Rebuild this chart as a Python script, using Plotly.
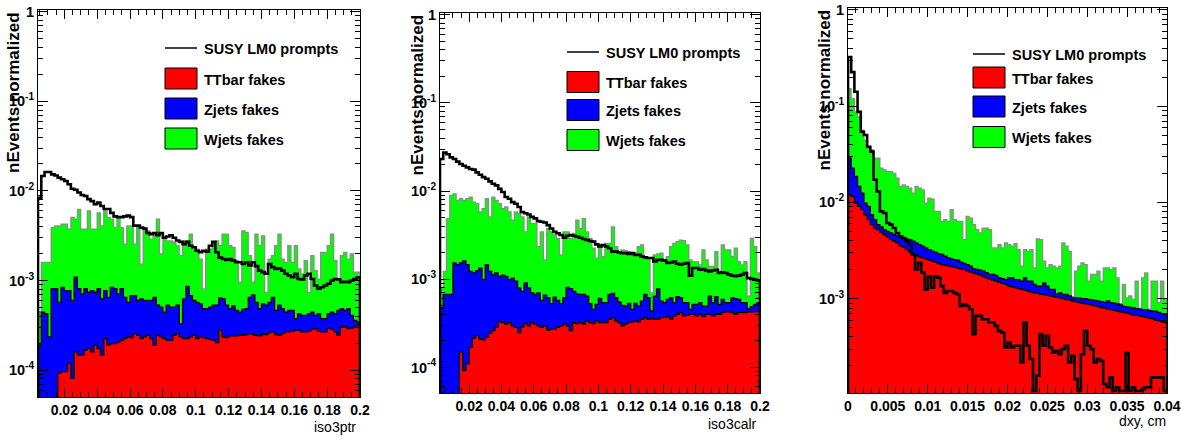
import numpy as np
import plotly.graph_objects as go

W, H = 1181, 440

# ------------------------------------------------------------------ data
legend_labels = ["SUSY LM0 prompts", "TTbar fakes", "Zjets fakes", "Wjets fakes"]

# panel 1 : iso3ptr, 98 bins between 0.004 and 0.2
p1_range = (0.004, 0.2)
p1_susy = [8.4e-3, 1.47e-2, 1.63e-2, 1.63e-2, 1.53e-2, 1.49e-2, 1.41e-2, 1.35e-2, 1.29e-2, 1.19e-2,
           1.06e-2, 1.03e-2, 9.6e-3, 9.0e-3, 8.8e-3, 8.1e-3, 7.7e-3, 7.1e-3, 7.4e-3, 6.8e-3,
           6.3e-3, 6.3e-3, 5.7e-3, 5.2e-3, 5.1e-3, 5.1e-3, 5.2e-3, 5.3e-3, 5.1e-3, 4.1e-3,
           4.1e-3, 3.9e-3, 3.8e-3, 3.4e-3, 3.3e-3, 3.4e-3, 3.2e-3, 3.4e-3, 3.0e-3, 3.1e-3,
           3.2e-3, 3.0e-3, 2.8e-3, 2.7e-3, 2.55e-3, 2.7e-3, 2.45e-3, 2.35e-3, 2.15e-3, 2.07e-3,
           2.15e-3, 2.1e-3, 2.45e-3, 2.7e-3, 2.07e-3, 1.8e-3, 1.74e-3, 1.7e-3, 1.74e-3, 1.67e-3,
           1.6e-3, 1.6e-3, 1.53e-3, 1.6e-3, 1.47e-3, 1.6e-3, 1.45e-3, 1.29e-3, 1.24e-3, 1.19e-3,
           1.53e-3, 1.41e-3, 1.35e-3, 1.37e-3, 1.29e-3, 1.19e-3, 1.14e-3, 1.09e-3, 1.19e-3, 1.04e-3,
           1.03e-3, 1.14e-3, 1.19e-3, 1.04e-3, 8.8e-4, 8.1e-4, 8.4e-4, 8.8e-4, 9.2e-4, 1.0e-3,
           1.04e-3, 1.03e-3, 9.6e-4, 9.7e-4, 9.6e-4, 1.0e-3, 1.04e-3, 1.09e-3]
# stack levels: ttbar, ttbar+zjets, ttbar+zjets+wjets
p1_stack_all = [4.5e-4, 1.6e-3, 1.6e-3, 1.6e-3, 3.91e-3, 4.08e-3, 4.08e-3, 4.26e-3, 4.26e-3, 3.75e-3,
                5.06e-3, 4.84e-3, 6.25e-3, 3.75e-3, 3.75e-3, 6.0e-3, 3.75e-3, 3.75e-3, 5.7e-3, 4.08e-3,
                6.0e-3, 5.06e-3, 4.84e-3, 3.91e-3, 5.06e-3, 3.91e-3, 2.55e-3, 4.08e-3, 4.08e-3, 2.55e-3,
                3.91e-3, 1.53e-3, 3.75e-3, 3.59e-3, 2.9e-3, 3.3e-3, 4.84e-3, 1.98e-3, 3.03e-3, 2.78e-3,
                2.78e-3, 2.67e-3, 2.45e-3, 1.9e-3, 2.78e-3, 2.78e-3, 3.3e-3, 2.25e-3, 2.25e-3, 1.74e-3,
                8.1e-4, 2.25e-3, 2.25e-3, 2.67e-3, 2.78e-3, 2.45e-3, 3.3e-3, 3.3e-3, 2.45e-3, 2.35e-3,
                1.67e-3, 9.6e-4, 3.59e-3, 3.44e-3, 1.9e-3, 9.6e-4, 3.3e-3, 2.45e-3, 3.16e-3, 7.4e-4,
                1.74e-3, 1.9e-3, 2.45e-3, 3.3e-3, 1.74e-3, 1.6e-3, 2.45e-3, 1.6e-3, 2.45e-3, 1.35e-3,
                1.19e-3, 1.67e-3, 7.4e-4, 1.9e-3, 1.29e-3, 1.04e-3, 2.06e-3, 2.06e-3, 2.45e-3, 3.3e-3,
                1.67e-3, 1.04e-3, 1.9e-3, 2.06e-3, 1.74e-3, 1.98e-3, 1.24e-3, 1.24e-3]
p1_stack_tz = [1.9e-4, 4.45e-4, 4.26e-4, 2.35e-4, 8.1e-4, 8.1e-4, 5.7e-4, 8.4e-4, 7.7e-4, 7.7e-4,
               6.0e-4, 1.09e-3, 8.1e-4, 7.1e-4, 8.1e-4, 7.4e-4, 7.7e-4, 7.4e-4, 8.1e-4, 6.25e-4,
               7.7e-4, 6.5e-4, 8.4e-4, 8.1e-4, 7.1e-4, 8.1e-4, 6.5e-4, 5.7e-4, 6.8e-4, 6.8e-4,
               6.0e-4, 6.25e-4, 6.0e-4, 6.0e-4, 6.0e-4, 6.5e-4, 5.3e-4, 5.06e-4, 4.45e-4, 5.3e-4,
               5.06e-4, 5.06e-4, 5.3e-4, 3.3e-4, 6.25e-4, 8.6e-4, 6.8e-4, 6.0e-4, 5.7e-4, 5.5e-4,
               4.84e-4, 4.84e-4, 5.06e-4, 5.3e-4, 5.3e-4, 6.4e-4, 6.25e-4, 5.3e-4, 4.84e-4, 5.2e-4,
               4.64e-4, 4.45e-4, 4.76e-4, 4.84e-4, 6.5e-4, 6.9e-4, 5.7e-4, 4.84e-4, 5.5e-4, 5.3e-4,
               5.7e-4, 6.5e-4, 4.64e-4, 5.3e-4, 4.84e-4, 4.45e-4, 4.64e-4, 4.64e-4, 3.75e-4, 4.26e-4,
               4.08e-4, 4.08e-4, 4.26e-4, 4.45e-4, 4.08e-4, 4.26e-4, 3.75e-4, 3.75e-4, 4.26e-4, 4.45e-4,
               4.26e-4, 4.64e-4, 4.84e-4, 4.64e-4, 4.84e-4, 4.08e-4, 3.59e-4, 3.44e-4]
p1_stack_t = [0, 0, 0, 0, 0, 0, 9.2e-5, 9.6e-5, 9.6e-5, 1.19e-4,
              8.1e-5, 1.6e-4, 1.47e-4, 1.47e-4, 1.67e-4, 1.74e-4, 1.6e-4, 1.9e-4, 1.74e-4, 1.47e-4,
              2.25e-4, 1.9e-4, 1.98e-4, 1.98e-4, 2.06e-4, 2.15e-4, 2.25e-4, 2.35e-4, 2.3e-4, 2.55e-4,
              2.45e-4, 2.25e-4, 2.35e-4, 2.45e-4, 2.25e-4, 1.9e-4, 2.45e-4, 2.35e-4, 2.25e-4, 2.15e-4,
              2.15e-4, 2.45e-4, 2.55e-4, 2.35e-4, 2.25e-4, 2.25e-4, 2.35e-4, 2.45e-4, 2.25e-4, 2.35e-4,
              2.3e-4, 2.25e-4, 2.2e-4, 2.15e-4, 2.03e-4, 2.78e-4, 2.35e-4, 2.3e-4, 2.41e-4, 2.41e-4,
              2.41e-4, 2.45e-4, 2.45e-4, 2.5e-4, 2.55e-4, 2.5e-4, 2.45e-4, 2.41e-4, 2.5e-4, 2.5e-4,
              2.62e-4, 2.67e-4, 2.5e-4, 2.45e-4, 2.55e-4, 2.67e-4, 2.67e-4, 2.71e-4, 2.78e-4, 2.78e-4,
              2.67e-4, 2.67e-4, 2.71e-4, 2.85e-4, 2.9e-4, 2.71e-4, 2.67e-4, 2.67e-4, 2.95e-4, 2.85e-4,
              2.67e-4, 2.45e-4, 3.03e-4, 3.03e-4, 2.9e-4, 2.95e-4, 3.03e-4, 3.16e-4]

# panel 2 : iso3calr, 99 bins between 0.002 and 0.2
p2_range = (0.002, 0.2)
p2_susy = [2.31e-2, 2.74e-2, 2.62e-2, 2.41e-2, 2.31e-2, 2.16e-2, 2.03e-2, 1.94e-2, 1.86e-2, 1.78e-2,
           1.75e-2, 1.63e-2, 1.53e-2, 1.44e-2, 1.38e-2, 1.29e-2, 1.21e-2, 1.16e-2, 1.06e-2, 9.75e-3,
           8.57e-3, 8.2e-3, 7.5e-3, 7.2e-3, 6.6e-3, 5.8e-3, 5.6e-3, 5.42e-3, 5.1e-3, 4.9e-3,
           4.56e-3, 4.49e-3, 4.41e-3, 4.11e-3, 3.77e-3, 3.46e-3, 3.32e-3, 3.18e-3, 2.96e-3, 3.12e-3,
           3.18e-3, 3.12e-3, 3.04e-3, 2.96e-3, 2.86e-3, 2.79e-3, 2.72e-3, 2.67e-3, 2.49e-3, 2.35e-3,
           2.45e-3, 2.35e-3, 2.25e-3, 2.06e-3, 2.06e-3, 2.01e-3, 1.98e-3, 1.98e-3, 1.94e-3, 1.98e-3,
           1.89e-3, 1.89e-3, 1.81e-3, 1.78e-3, 1.74e-3, 1.74e-3, 1.59e-3, 1.66e-3, 1.66e-3, 1.63e-3,
           1.53e-3, 1.55e-3, 1.59e-3, 1.5e-3, 1.46e-3, 1.5e-3, 1.53e-3, 1.1e-3, 1.34e-3, 1.34e-3,
           1.28e-3, 1.31e-3, 1.26e-3, 1.23e-3, 1.26e-3, 1.28e-3, 1.18e-3, 1.2e-3, 1.18e-3, 1.13e-3,
           1.1e-3, 1.08e-3, 1.1e-3, 1.13e-3, 1.18e-3, 1.03e-3, 1.01e-3, 9.9e-4, 9.7e-4]
p2_stack_all = [8.0e-4, 1.23e-3, 4.89e-3, 8.93e-3, 9.33e-3, 7.85e-3, 8.2e-3, 7.85e-3, 8.2e-3, 8.57e-3,
                7.52e-3, 7.21e-3, 5.8e-3, 6.33e-3, 8.2e-3, 5.1e-3, 8.57e-3, 7.85e-3, 7.21e-3, 6.33e-3,
                6.61e-3, 5.8e-3, 4.68e-3, 5.8e-3, 5.56e-3, 5.1e-3, 3.46e-3, 5.1e-3, 4.29e-3, 4.29e-3,
                2.35e-3, 3.46e-3, 1.66e-3, 3.77e-3, 3.46e-3, 3.18e-3, 2.91e-3, 1.89e-3, 3.46e-3, 3.46e-3,
                2.91e-3, 3.32e-3, 4.68e-3, 3.77e-3, 4.89e-3, 3.46e-3, 2.91e-3, 2.25e-3, 1.74e-3, 2.45e-3,
                1.81e-3, 2.56e-3, 2.56e-3, 3.94e-3, 2.35e-3, 1.98e-3, 2.15e-3, 2.12e-3, 2.06e-3, 1.98e-3,
                2.01e-3, 2.35e-3, 2.45e-3, 1.74e-3, 1.74e-3, 7.0e-4, 1.89e-3, 1.94e-3, 1.98e-3, 1.59e-3,
                1.81e-3, 2.35e-3, 2.56e-3, 2.67e-3, 2.79e-3, 2.74e-3, 2.45e-3, 1.66e-3, 1.59e-3, 1.59e-3,
                1.46e-3, 2.15e-3, 1.66e-3, 1.4e-3, 1.4e-3, 2.06e-3, 1.23e-3, 2.45e-3, 2.15e-3, 2.15e-3,
                1.81e-3, 2.25e-3, 1.59e-3, 1.46e-3, 1.59e-3, 6.44e-4, 2.91e-3, 2.35e-3, 1.18e-3]
p2_stack_tz = [4.76e-4, 6.73e-4, 6.73e-4, 6.73e-4, 1.53e-3, 1.46e-3, 1.53e-3, 1.62e-3, 1.46e-3, 1.23e-3,
               1.18e-3, 1.25e-3, 1.34e-3, 9.9e-4, 1.46e-3, 1.23e-3, 1.13e-3, 1.18e-3, 1.08e-3, 1.11e-3,
               1.08e-3, 9.9e-4, 1.03e-3, 9.5e-4, 8.0e-4, 7.3e-4, 9.1e-4, 8.0e-4, 7.0e-4, 6.73e-4,
               7.0e-4, 5.76e-4, 6.61e-4, 6.17e-4, 5.28e-4, 6.28e-4, 5.76e-4, 5.28e-4, 6.17e-4, 8.1e-4,
               7.85e-4, 7.3e-4, 6.84e-4, 6.73e-4, 6.73e-4, 6.44e-4, 5.28e-4, 4.56e-4, 5.19e-4, 6.07e-4,
               5.42e-4, 5.42e-4, 6.73e-4, 6.9e-4, 6.17e-4, 5.52e-4, 5.06e-4, 4.97e-4, 5.33e-4, 4.56e-4,
               5.33e-4, 4.97e-4, 5.66e-4, 6.73e-4, 6.17e-4, 4.37e-4, 6.44e-4, 7.78e-4, 5.66e-4, 5.42e-4,
               5.91e-4, 6.17e-4, 5.42e-4, 6.33e-4, 6.17e-4, 5.42e-4, 5.42e-4, 4.56e-4, 5.19e-4, 5.19e-4,
               5.42e-4, 4.97e-4, 4.97e-4, 6.44e-4, 5.42e-4, 6.33e-4, 5.19e-4, 5.91e-4, 5.42e-4, 5.42e-4,
               6.17e-4, 6.01e-4, 5.91e-4, 5.42e-4, 5.42e-4, 4.6e-4, 4.9e-4, 5.2e-4, 5.42e-4]
p2_stack_t = [0, 0, 0, 0, 0, 0, 1.49e-4, 9.2e-5, 1.1e-4, 1.69e-4,
              2.15e-4, 2.29e-4, 2.1e-4, 2.05e-4, 2.19e-4, 2.43e-4, 2.61e-4, 2.84e-4, 3.32e-4, 3.23e-4,
              3.1e-4, 3.23e-4, 2.97e-4, 2.84e-4, 2.49e-4, 2.89e-4, 3.15e-4, 2.97e-4, 3.23e-4, 3.1e-4,
              2.97e-4, 2.84e-4, 2.97e-4, 2.65e-4, 2.72e-4, 2.72e-4, 2.84e-4, 2.97e-4, 3.1e-4, 2.97e-4,
              2.61e-4, 3.21e-4, 3.15e-4, 3.23e-4, 3.1e-4, 3.37e-4, 3.23e-4, 3.15e-4, 3.37e-4, 3.23e-4,
              3.23e-4, 3.23e-4, 3.52e-4, 3.68e-4, 3.37e-4, 3.23e-4, 2.97e-4, 3.1e-4, 3.23e-4, 3.29e-4,
              3.37e-4, 3.29e-4, 3.52e-4, 3.68e-4, 3.52e-4, 3.58e-4, 3.52e-4, 3.52e-4, 3.68e-4, 3.68e-4,
              3.78e-4, 3.52e-4, 3.84e-4, 4.01e-4, 4.19e-4, 3.84e-4, 3.91e-4, 4.01e-4, 4.01e-4, 3.84e-4,
              4.01e-4, 3.78e-4, 4.01e-4, 4.01e-4, 3.84e-4, 4.01e-4, 4.01e-4, 4.19e-4, 4.26e-4, 4.26e-4,
              4.19e-4, 4.01e-4, 4.2e-4, 4.2e-4, 4.19e-4, 4.26e-4, 4.26e-4, 4.3e-4, 4.3e-4]

# panel 3 : dxy [cm], 100 bins between 0 and 0.04
p3_range = (0.0, 0.04)
p3_susy = [0.324, 0.226, 0.141, 0.0873, 0.0542, 0.0501, 0.0379, 0.0337, 0.0172, 0.0130,
           8.07e-3, 7.76e-3, 6.11e-3, 5.88e-3, 5.42e-3, 4.82e-3, 4.45e-3, 4.27e-3, 3.95e-3, 3.65e-3,
           2.88e-3, 2.01e-3, 2.36e-3, 1.86e-3, 1.25e-3, 1.71e-3, 1.30e-3, 1.71e-3, 1.65e-3, 1.35e-3,
           1.15e-3, 1.20e-3, 1.20e-3, 1.15e-3, 1.11e-3, 8.4e-4, 8.74e-4, 8.4e-4, 7.76e-4, 4.28e-4,
           6.62e-4, 6.62e-4, 6.11e-4, 6.11e-4, 5.65e-4, 5.65e-4, 5.22e-4, 4.63e-4, 4.45e-4, 3.11e-4,
           3.51e-4, 3.11e-4, 3.24e-4, 3.24e-4, 2.18e-4, 5.65e-4, 3.24e-4, 2.36e-4, 1.1e-4, 1.58e-4,
           4.28e-4, 3.24e-4, 4.11e-4, 3.11e-4, 2.76e-4, 2.88e-4, 2.65e-4, 2.99e-4, 3.24e-4, 2.18e-4,
           2.55e-4, 1.46e-4, 1.1e-4, 2.65e-4, 4.63e-4, 3.24e-4, 2.99e-4, 2.18e-4, 2.36e-4, 2.26e-4,
           1.30e-4, 1.20e-4, 1.52e-4, 1.1e-4, 1.20e-4, 1.1e-4, 1.1e-4, 2.72e-4, 1.1e-4, 1.20e-4,
           1.1e-4, 1.1e-4, 1.15e-4, 1.20e-4, 1.20e-4, 1.52e-4, 1.52e-4, 1.52e-4, 1.52e-4, 1.1e-4]
p3_stack_all = [0.152, 0.120, 0.0873, 0.0776, 0.0565, 0.0445, 0.0365, 0.0351, 0.0288, 0.0288,
                0.0227, 0.0218, 0.0209, 0.0209, 0.0201, 0.0179, 0.0147, 0.0152, 0.0147, 0.0141,
                0.0125, 0.0147, 0.0141, 0.0135, 9.84e-3, 0.0111, 0.0108, 8.07e-3, 8.07e-3, 6.36e-3,
                6.62e-3, 6.36e-3, 8.4e-3, 6.62e-3, 6.36e-3, 6.36e-3, 4.11e-3, 7.16e-3, 6.89e-3, 5.88e-3,
                5.21e-3, 4.82e-3, 5.42e-3, 5.42e-3, 5.21e-3, 3.37e-3, 3.37e-3, 3.65e-3, 3.37e-3, 3.8e-3,
                3.65e-3, 3.51e-3, 3.73e-3, 3.24e-3, 2.18e-3, 3.24e-3, 3.11e-3, 3.24e-3, 2.09e-3, 4.18e-3,
                4.11e-3, 2.45e-3, 2.09e-3, 2.26e-3, 2.18e-3, 2.09e-3, 2.18e-3, 3.8e-3, 3.51e-3, 3.11e-3,
                1.05e-3, 1.93e-3, 2.18e-3, 2.36e-3, 2.26e-3, 1.52e-3, 1.79e-3, 1.79e-3, 1.93e-3, 1.52e-3,
                2.09e-3, 2.09e-3, 2.01e-3, 2.09e-3, 1.65e-3, 8.9e-4, 1.41e-3, 1.02e-3, 1.07e-3, 9.8e-4,
                1.52e-3, 8.0e-4, 1.65e-3, 1.86e-3, 7.8e-4, 1.52e-3, 1.52e-3, 9.1e-4, 1.52e-3, 9.8e-4]
p3_stack_tz = [0.0288, 0.0227, 0.0186, 0.0147, 0.0125, 9.84e-3, 9.1e-3, 7.45e-3, 6.62e-3, 5.88e-3,
               5.56e-3, 5.21e-3, 5.01e-3, 4.82e-3, 4.63e-3, 4.52e-3, 4.38e-3, 4.27e-3, 4.18e-3, 4.11e-3,
               3.95e-3, 3.8e-3, 3.65e-3, 3.51e-3, 3.37e-3, 3.24e-3, 3.11e-3, 3.04e-3, 2.94e-3, 2.88e-3,
               2.76e-3, 2.65e-3, 2.59e-3, 2.55e-3, 2.51e-3, 2.4e-3, 2.32e-3, 2.26e-3, 2.18e-3, 2.04e-3,
               2.01e-3, 1.98e-3, 1.93e-3, 1.86e-3, 1.79e-3, 1.79e-3, 1.74e-3, 1.65e-3, 1.61e-3, 1.58e-3,
               1.65e-3, 1.65e-3, 1.58e-3, 1.58e-3, 1.52e-3, 1.65e-3, 1.52e-3, 1.52e-3, 1.41e-3, 1.35e-3,
               1.35e-3, 1.46e-3, 1.35e-3, 1.25e-3, 1.25e-3, 1.12e-3, 1.15e-3, 1.11e-3, 1.11e-3, 1.07e-3,
               1.02e-3, 1.02e-3, 1.02e-3, 1.0e-3, 1.0e-3, 9.8e-4, 9.7e-4, 9.6e-4, 9.5e-4, 9.3e-4,
               9.2e-4, 9.5e-4, 9.1e-4, 9.0e-4, 8.8e-4, 8.6e-4, 8.3e-4, 8.2e-4, 8.1e-4, 8.0e-4,
               7.9e-4, 7.8e-4, 7.7e-4, 7.7e-4, 7.5e-4, 7.4e-4, 7.4e-4, 7.2e-4, 7.0e-4, 6.9e-4]
p3_stack_t = [0.0120, 0.0115, 9.84e-3, 9.1e-3, 8.4e-3, 7.45e-3, 6.62e-3, 5.88e-3, 5.42e-3, 5.21e-3,
              4.89e-3, 4.63e-3, 4.38e-3, 4.11e-3, 3.95e-3, 3.8e-3, 3.56e-3, 3.42e-3, 3.24e-3, 3.04e-3,
              2.92e-3, 2.81e-3, 2.72e-3, 2.65e-3, 2.59e-3, 2.51e-3, 2.45e-3, 2.4e-3, 2.32e-3, 2.26e-3,
              2.23e-3, 2.19e-3, 2.16e-3, 2.13e-3, 2.08e-3, 2.03e-3, 2.0e-3, 1.95e-3, 1.89e-3, 1.85e-3,
              1.8e-3, 1.76e-3, 1.7e-3, 1.65e-3, 1.6e-3, 1.56e-3, 1.52e-3, 1.48e-3, 1.44e-3, 1.41e-3,
              1.35e-3, 1.33e-3, 1.3e-3, 1.27e-3, 1.25e-3, 1.23e-3, 1.2e-3, 1.17e-3, 1.15e-3, 1.14e-3,
              1.11e-3, 1.1e-3, 1.08e-3, 1.07e-3, 1.05e-3, 1.03e-3, 1.02e-3, 1.0e-3, 9.8e-4, 9.7e-4,
              9.46e-4, 9.3e-4, 9.1e-4, 9.0e-4, 8.9e-4, 8.74e-4, 8.6e-4, 8.4e-4, 8.26e-4, 8.1e-4,
              8.0e-4, 7.8e-4, 7.7e-4, 7.58e-4, 7.45e-4, 7.3e-4, 7.2e-4, 7.1e-4, 6.94e-4, 6.8e-4,
              6.7e-4, 6.62e-4, 6.5e-4, 6.4e-4, 6.3e-4, 6.21e-4, 6.0e-4, 5.87e-4, 5.75e-4, 5.65e-4]

# tick labels
p12_xticks = [0.02, 0.04, 0.06, 0.08, 0.1, 0.12, 0.14, 0.16, 0.18, 0.2]
p12_xlabels = ["0.02", "0.04", "0.06", "0.08", "0.1", "0.12", "0.14", "0.16", "0.18", "0.2"]
p3_xticks = [0, 0.005, 0.01, 0.015, 0.02, 0.025, 0.03, 0.035, 0.04]
p3_xlabels = ["0", "0.005", "0.01", "0.015", "0.02", "0.025", "0.03", "0.035", "0.04"]
y_ticks = [1e-4, 1e-3, 1e-2, 1e-1, 1]
y_labels = ["10<sup>-4</sup>", "10<sup>-3</sup>", "10<sup>-2</sup>", "10<sup>-1</sup>", "1"]
x_titles = ["iso3ptr", "iso3calr", "dxy, cm"]
y_title = "nEvents normalized"

# ------------------------------------------------------------------ style
RED, BLUE, GREEN = "#ff0000", "#0000ff", "#00ff00"
FONT = "Liberation Sans, Arial, sans-serif"

panels = [
    dict(rng=p1_range, susy=p1_susy, all=p1_stack_all, tz=p1_stack_tz, t=p1_stack_t,
         px=(38, 360), py=(10, 397), yr=(-4.3, 0.02), xt=p12_xticks, xl=p12_xlabels, minor=0.005,
         title=x_titles[0], tpos=(358, 427), ytx=13.5, leg_x=165, leg_y=[48, 78.5, 108.5, 138.5]),
    dict(rng=p2_range, susy=p2_susy, all=p2_stack_all, tz=p2_stack_tz, t=p2_stack_t,
         px=(440, 760), py=(13, 393), yr=(-4.29, 0.02), xt=p12_xticks, xl=p12_xlabels, minor=0.005,
         title=x_titles[1], tpos=(759, 424), ytx=417, leg_x=567, leg_y=[52, 82, 110, 140]),
    dict(rng=p3_range, susy=p3_susy, all=p3_stack_all, tz=p3_stack_tz, t=p3_stack_t,
         px=(848, 1167), py=(8, 393), yr=(-3.98, 0.02), xt=p3_xticks, xl=p3_xlabels, minor=0.001,
         title=x_titles[2], tpos=(1168, 421), ytx=824, leg_x=973, leg_y=[54, 77.5, 106.5, 137]),
]


def fx(p):
    return p / W


def fy(p):
    return 1 - p / H


def step(edges, vals, floor=1e-9):
    v = [a if a > 0 else floor for a in vals]
    xs = [edges[0]] + list(edges[:-1]) + [edges[-1], edges[-1]]
    ys = [floor] + v + [v[-1], floor]
    return xs, ys


fig = go.Figure()
shapes, annotations = [], []
layout = {}

for k, P in enumerate(panels):
    sfx = "" if k == 0 else str(k + 1)
    xa, ya = "x" + sfx, "y" + sfx
    n = len(P["susy"])
    edges = np.linspace(P["rng"][0], P["rng"][1], n + 1)
    centers = (edges[:-1] + edges[1:]) / 2
    bw = edges[1] - edges[0]

    for vals, col in [(P["all"], GREEN), (P["tz"], BLUE), (P["t"], RED)]:
        fig.add_trace(go.Bar(x=centers, y=[v if v > 0 else None for v in vals], width=bw,
                             marker=dict(color=col, line=dict(width=0)),
                             xaxis=xa, yaxis=ya, showlegend=False, hoverinfo="skip"))
    for vals, col, lw in [(P["all"], "#8c8c8c", 1.2), (P["tz"], "black", 1.3),
                          (P["t"], "black", 1.3), (P["susy"], "black", 2.6)]:
        xs, ys = step(edges, vals)
        fig.add_trace(go.Scatter(x=xs, y=ys, mode="lines", line=dict(color=col, width=lw, shape="hv"),
                                 xaxis=xa, yaxis=ya, showlegend=False, hoverinfo="skip"))

    x0, x1 = P["px"]
    y0, y1 = P["py"]
    layout["xaxis" + sfx] = dict(
        domain=[fx(x0), fx(x1)], range=list(P["rng"]), anchor=ya, automargin=False,
        showline=True, linecolor="black", linewidth=1, mirror="ticks",
        ticks="inside", ticklen=9, tickwidth=1, tickcolor="black", tickangle=0,
        tickmode="array", tickvals=P["xt"], ticktext=["<b>%s</b>" % s for s in P["xl"]],
        tickfont=dict(family=FONT, size=14, color="black"),
        minor=dict(ticks="inside", ticklen=5, tickwidth=1, tickcolor="black",
                   dtick=P["minor"], tick0=0, showgrid=False),
        showgrid=False, zeroline=False)
    layout["yaxis" + sfx] = dict(
        domain=[fy(y1), fy(y0)], type="log", range=list(P["yr"]), anchor=xa, automargin=False,
        showline=True, linecolor="black", linewidth=1, mirror="ticks",
        ticks="inside", ticklen=10, tickwidth=1, tickcolor="black",
        tickmode="array", tickvals=y_ticks, ticktext=["<b>%s</b>" % s for s in y_labels],
        tickfont=dict(family=FONT, size=14.5, color="black"),
        minor=dict(ticks="inside", ticklen=5, tickwidth=1, tickcolor="black",
                   dtick="D1", showgrid=False),
        showgrid=False, zeroline=False)

    # axis titles
    annotations.append(dict(x=fx(P["tpos"][0]), y=fy(P["tpos"][1]), xref="paper", yref="paper",
                            text=P["title"], showarrow=False, xanchor="right", yanchor="middle",
                            font=dict(family=FONT, size=14, color="black")))
    annotations.append(dict(x=fx(P["ytx"]), y=fy(y0), xref="paper", yref="paper",
                            text="<b>%s</b>" % y_title, textangle=-90, showarrow=False,
                            xanchor="center", yanchor="top",
                            font=dict(family=FONT, size=17, color="black")))

    # legend (drawn like the ROOT TLegend)
    lx = P["leg_x"]
    ly = P["leg_y"]
    shapes.append(dict(type="line", xref="paper", yref="paper", x0=fx(lx), x1=fx(lx + 32),
                       y0=fy(ly[0]), y1=fy(ly[0]), line=dict(color="black", width=1.5)))
    for yy, col in zip(ly[1:], [RED, BLUE, GREEN]):
        shapes.append(dict(type="rect", xref="paper", yref="paper", x0=fx(lx), x1=fx(lx + 32),
                           y0=fy(yy + 10.5), y1=fy(yy - 10.5), fillcolor=col,
                           line=dict(color="black", width=1)))
    for yy, lab in zip(ly, legend_labels):
        annotations.append(dict(x=fx(lx + 37), y=fy(yy + 1), xref="paper", yref="paper",
                                text="<b>%s</b>" % lab, showarrow=False, xanchor="left",
                                yanchor="middle", font=dict(family=FONT, size=14.5, color="black")))

fig.update_layout(**layout)
fig.update_layout(template="none", width=W, height=H, autosize=False,
                  margin=dict(l=0, r=0, t=0, b=0, pad=0),
                  paper_bgcolor="white", plot_bgcolor="white", barmode="overlay", bargap=0,
                  shapes=shapes, annotations=annotations, showlegend=False)
fig.write_html("out.html")
